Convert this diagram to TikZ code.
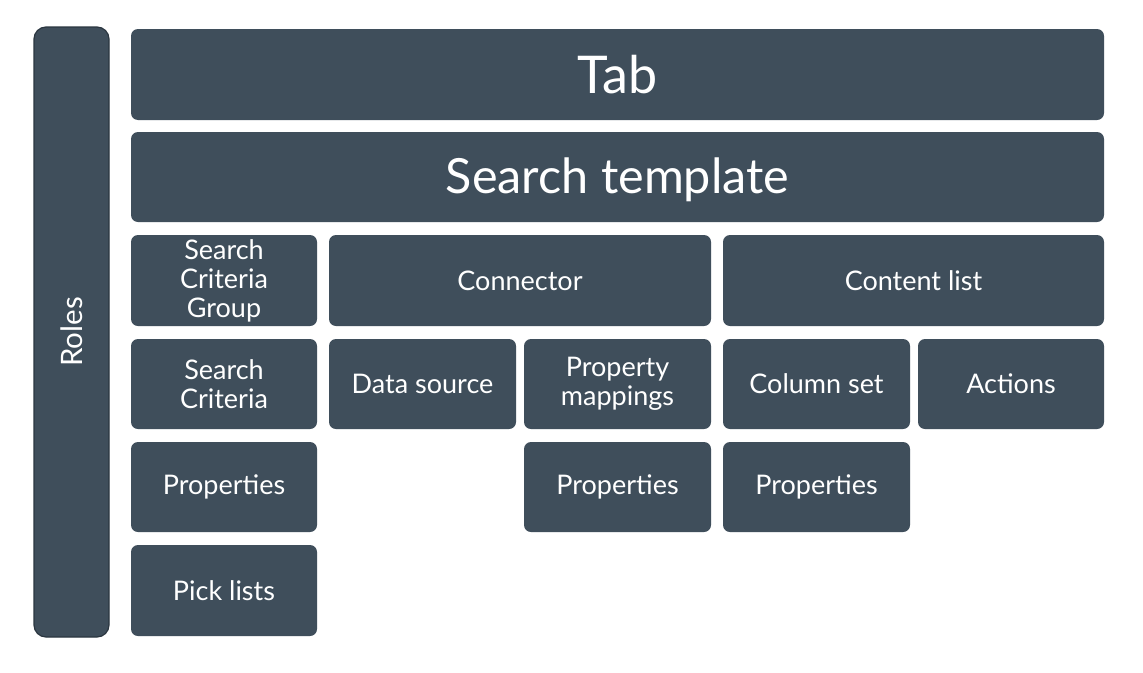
\documentclass[tikz,border=0pt]{standalone}
\usepackage{fontspec}
\setmainfont{Lato}
\definecolor{boxfill}{HTML}{3F4E5B}
\definecolor{boxedge}{HTML}{2B3640}
\begin{document}
\begin{tikzpicture}[x=1pt,y=-1pt,
  box/.style={fill=boxfill, text=white, rounded corners=7pt, inner sep=0pt, outer sep=0pt,
    align=center, font=\fontsize{27}{29}\selectfont},
  rolebox/.style={box, draw=boxedge, line width=1.2pt, rounded corners=12pt}]
\useasboundingbox (0,0) rectangle (1143,672);
\fill[white] (0,0) rectangle (1143,672);
\node[rolebox, minimum width=75pt, minimum height=610pt] (roles) at (71.5,332) {};
\node[text=white, rotate=90, font=\fontsize{29.5}{32}\selectfont] (roleslbl) at (roles.center) {Roles};
\node[box, font=\fontsize{52}{56}\selectfont, minimum width=973pt, minimum height=91pt] (tab) at (617.5,74.5) {Tab};
\node[box, minimum width=973pt, minimum height=90pt] (st) at (617.5,177) {};
\node[text=white, font=\fontsize{48.5}{54}\selectfont, inner sep=0pt] (stlbl) at (617.5,180) {Search template};
% row 3
\node[box, minimum width=186pt, minimum height=91pt] (scg) at (224,280.5) {Search\\Criteria\\Group};
\node[box, minimum width=382pt, minimum height=91pt] (conn) at (520,280.5) {Connector};
\node[box, minimum width=381pt, minimum height=91pt] (cl) at (913.5,280.5) {Content list};
% row 4
\node[box, minimum width=186pt, minimum height=90pt] (sc) at (224,384) {Search\\Criteria};
\node[box, minimum width=187pt, minimum height=90pt] (ds) at (422.5,384) {Data source};
\node[box, minimum width=187pt, minimum height=90pt] (pm) at (617.5,384) {Property\\mappings};
\node[box, minimum width=187pt, minimum height=90pt] (cs) at (816.5,384) {Column set};
\node[box, minimum width=186pt, minimum height=90pt] (act) at (1011,384) {Actions};
% row 5
\node[box, minimum width=186pt, minimum height=90pt] (p1) at (224,487) {Properties};
\node[box, minimum width=187pt, minimum height=90pt] (p2) at (617.5,487) {Properties};
\node[box, minimum width=187pt, minimum height=90pt] (p3) at (816.5,487) {Properties};
% row 6
\node[box, minimum width=186pt, minimum height=91pt] (pl) at (224,590.5) {Pick lists};
\end{tikzpicture}
\end{document}
